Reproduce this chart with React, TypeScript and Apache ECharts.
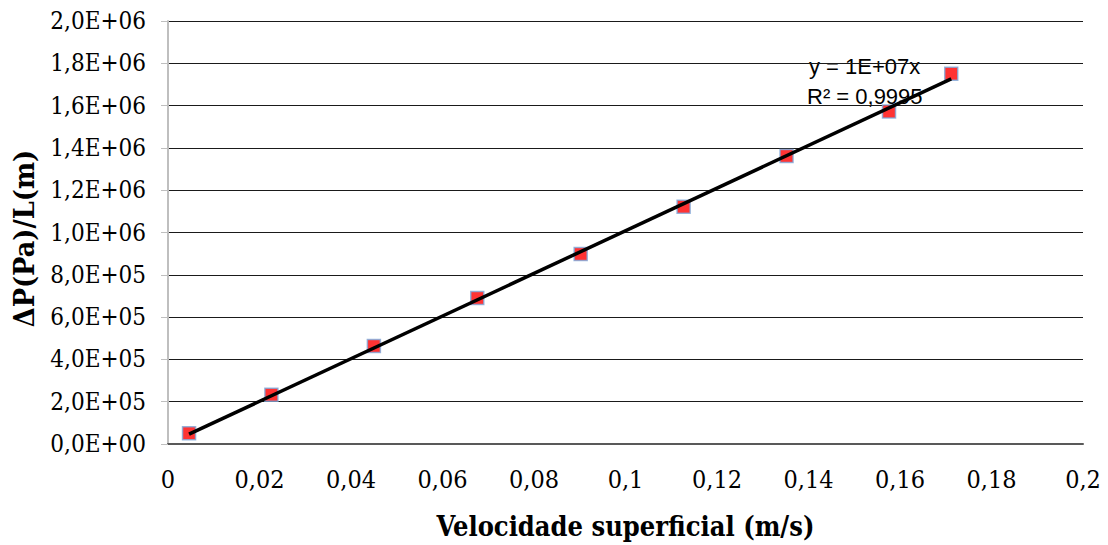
import React, { useEffect, useRef } from "react";
import * as echarts from "echarts";

const velocity = [0.0046, 0.0226, 0.045, 0.0676, 0.0902, 0.1127, 0.1352, 0.1576, 0.1712];
const pressureGradient = [51000, 233000, 463000, 690000, 898000, 1122000, 1362000, 1572000, 1751000];
const yTickLabels = [
  "0,0E+00", "2,0E+05", "4,0E+05", "6,0E+05", "8,0E+05", "1,0E+06",
  "1,2E+06", "1,4E+06", "1,6E+06", "1,8E+06", "2,0E+06",
];
const xTickLabels = ["0", "0,02", "0,04", "0,06", "0,08", "0,1", "0,12", "0,14", "0,16", "0,18", "0,2"];
const trendLabels = ["y = 1E+07x", "R² = 0,9995"];
const xTitle = "Velocidade superficial (m/s)";
const yTitle = "ΔP(Pa)/L(m)";

export default function App() {
  const ref = useRef<HTMLDivElement>(null);
  useEffect(() => {
    if (!ref.current) return;
    const chart = echarts.init(ref.current, undefined, { renderer: "svg" });
    // least-squares trendline through the origin
    let sxy = 0, sxx = 0;
    velocity.forEach((x, i) => { sxy += x * pressureGradient[i]; sxx += x * x; });
    const slope = sxy / sxx;
    const x0 = velocity[0];
    const x1 = velocity[velocity.length - 1];
    const serif = "DejaVu Serif Condensed";
    const sans = "Liberation Sans";
    chart.setOption({
      animation: false,
      backgroundColor: "#ffffff",
      grid: { left: 168, right: 25, top: 21, bottom: 95 },
      xAxis: {
        type: "value",
        min: 0,
        max: 0.2,
        interval: 0.02,
        name: xTitle,
        nameLocation: "middle",
        nameGap: 69,
        nameTextStyle: { fontFamily: serif, fontWeight: "bold", fontSize: 27, color: "#000" },
        axisLine: { show: true, onZero: false, lineStyle: { color: "#595959", width: 2 } },
        axisTick: { show: false },
        splitLine: { show: false },
        axisLabel: {
          margin: 23,
          fontFamily: serif,
          fontSize: 25,
          color: "#000",
          formatter: (v: number) => xTickLabels[Math.round(v / 0.02)] ?? "",
        },
      },
      yAxis: {
        type: "value",
        min: 0,
        max: 2000000,
        interval: 200000,
        name: yTitle,
        nameLocation: "middle",
        nameGap: 130,
        nameRotate: 90,
        nameTextStyle: {
          fontFamily: serif,
          fontWeight: "bold",
          fontSize: 28.5,
          color: "#000",
          padding: [0, 12, 0, 0],
        },
        axisLine: { show: true, lineStyle: { color: "#bfbfbf", width: 2 } },
        axisTick: { show: true, length: 7, lineStyle: { color: "#bfbfbf", width: 1 } },
        splitLine: { show: true, lineStyle: { color: "#1a1a1a", width: 1 } },
        axisLabel: {
          margin: 22,
          fontFamily: serif,
          fontSize: 24,
          color: "#000",
          formatter: (v: number) => yTickLabels[Math.round(v / 200000)] ?? "",
        },
      },
      series: [
        {
          type: "scatter",
          data: velocity.map((x, i) => [x, pressureGradient[i]]),
          symbol: "rect",
          symbolSize: 13,
          itemStyle: { color: "#ff0000", borderColor: "#7da7d9", borderWidth: 1.5 },
          z: 2,
        },
        {
          type: "line",
          data: [[x0, slope * x0], [x1, slope * x1]],
          showSymbol: false,
          symbol: "none",
          lineStyle: { color: "#000", width: 3.5 },
          z: 3,
        },
      ],
      graphic: [
        {
          type: "text",
          left: 809,
          top: 55,
          style: { text: trendLabels[0], fontFamily: sans, fontSize: 22, fill: "#000" },
        },
        {
          type: "text",
          left: 807,
          top: 85,
          style: { text: trendLabels[1], fontFamily: sans, fontSize: 22, fill: "#000" },
        },
      ],
    });
    return () => chart.dispose();
  }, []);
  return (
    <div
      ref={ref}
      style={{ position: "absolute", left: 0, top: 0, width: 1108, height: 545 }}
    />
  );
}
